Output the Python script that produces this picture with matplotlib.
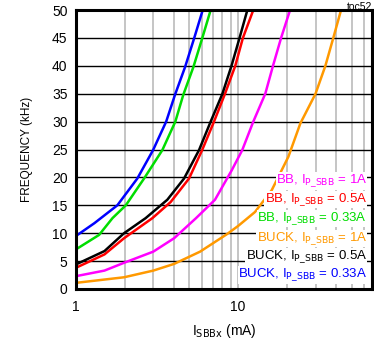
import numpy as np
import matplotlib.pyplot as plt

plt.rcParams['font.family'] = ['Liberation Sans', 'DejaVu Sans']

# ISBBx (mA) vs frequency (kHz)
blue_x = [1, 1.3, 1.8, 2.39, 2.99, 3.6, 4.08, 4.71, 5.35, 6.05]
blue_y = [9.5, 11.8, 15, 19.8, 24.9, 30, 34.8, 39.8, 44.9, 50]
green_x = [1, 1.39, 1.68, 2.03, 2.63, 3.41, 4.1, 4.59, 5.3, 6.0, 6.77]
green_y = [7.1, 9.7, 12.7, 15, 19.8, 24.9, 30, 34.8, 39.8, 44.9, 50]
black_x = [1, 1.5, 1.98, 2.69, 3.66, 4.64, 5.74, 6.77, 8.0, 9.1, 10.2, 11.4]
black_y = [4.4, 6.8, 10, 12.7, 16, 19.8, 24.9, 30, 35, 40, 45, 50]
red_x = [1, 1.5, 1.98, 2.96, 3.84, 4.98, 6.0, 7.1, 8.3, 9.6, 10.7, 12.4]
red_y = [3.8, 6.2, 9.1, 12.7, 15.6, 19.8, 24.9, 30, 35, 40, 45, 50]
mag_x = [1, 1.5, 1.98, 3.0, 4.03, 5.5, 7.2, 9.14, 10.6, 12.4, 14.7, 16.4, 18.4, 20.9]
mag_y = [2.3, 3.3, 4.7, 6.7, 9.1, 12.7, 16, 21.3, 24.9, 30, 35, 40, 45, 50]
orange_x = [1, 1.98, 3.0, 4.03, 5.83, 8.5, 10, 12.7, 16.1, 20.4, 24.2, 30, 34.5, 38.6, 43.1]
orange_y = [1.1, 2.1, 3.3, 4.5, 6.7, 9.8, 11.3, 13.8, 17.7, 23.7, 29.7, 35, 40, 45, 50]

labels = [r'BB, I$_{\mathrm{P\_SBB}}$ = 1A',
          r'BB, I$_{\mathrm{P\_SBB}}$ = 0.5A',
          r'BB, I$_{\mathrm{P\_SBB}}$ = 0.33A',
          r'BUCK, I$_{\mathrm{P\_SBB}}$ = 1A',
          r'BUCK, I$_{\mathrm{P\_SBB}}$ = 0.5A',
          r'BUCK, I$_{\mathrm{P\_SBB}}$ = 0.33A']
label_colors = ['#ff00ff', '#ff0000', '#00dd00', '#ff9900', '#000000', '#0000ff']

fig = plt.figure(figsize=(3.74, 3.41), dpi=100)
ax = fig.add_axes([0.203, 0.1525, 0.792, 0.818])

ax.set_xscale('log')
ax.set_xlim(1, 67)
ax.set_ylim(0, 50)

# vertical grey grid on every log tick
for v in list(range(2, 10)) + list(range(10, 70, 10)):
    ax.axvline(v, color='#c0c0c0', lw=1.3, zorder=1)
for h in range(5, 50, 5):
    ax.axhline(h, color='black', lw=1.0, zorder=1)

lw = 1.8
ax.plot(orange_x, orange_y, color='#ff9900', lw=lw, zorder=3)
ax.plot(mag_x, mag_y, color='#ff00ff', lw=lw, zorder=3)
ax.plot(red_x, red_y, color='#ff0000', lw=lw, zorder=3)
ax.plot(black_x, black_y, color='#000000', lw=lw, zorder=3)
ax.plot(green_x, green_y, color='#00dd00', lw=lw, zorder=3)
ax.plot(blue_x, blue_y, color='#0000ff', lw=lw, zorder=3)

ax.set_yticks(np.arange(0, 51, 5))
ax.set_xticks([1, 10])
ax.set_xticklabels(['1', '10'])
ax.xaxis.set_minor_locator(plt.NullLocator())
ax.tick_params(length=0, labelsize=10, pad=8)
ax.tick_params(axis='y', pad=6)

for s in ax.spines.values():
    s.set_linewidth(2.2)
    s.set_zorder(5)

ax.set_xlabel(r'I$_{\mathrm{SBBx}}$ (mA)', fontsize=10, labelpad=6)
ax.set_ylabel('FREQUENCY (kHz)', fontsize=8.5, labelpad=14)

ys = [0.387, 0.322, 0.252, 0.180, 0.115, 0.050]
for lab, c, yy in zip(labels, label_colors, ys):
    ax.text(0.983, yy, lab, color=c, fontsize=9.5, ha='right', va='center',
            transform=ax.transAxes, zorder=6,
            bbox=dict(facecolor='white', edgecolor='none', pad=0.2))

fig.text(0.995, 0.993, 'toc52', fontsize=7.5, ha='right', va='top')

plt.savefig('out.png', dpi=100)
